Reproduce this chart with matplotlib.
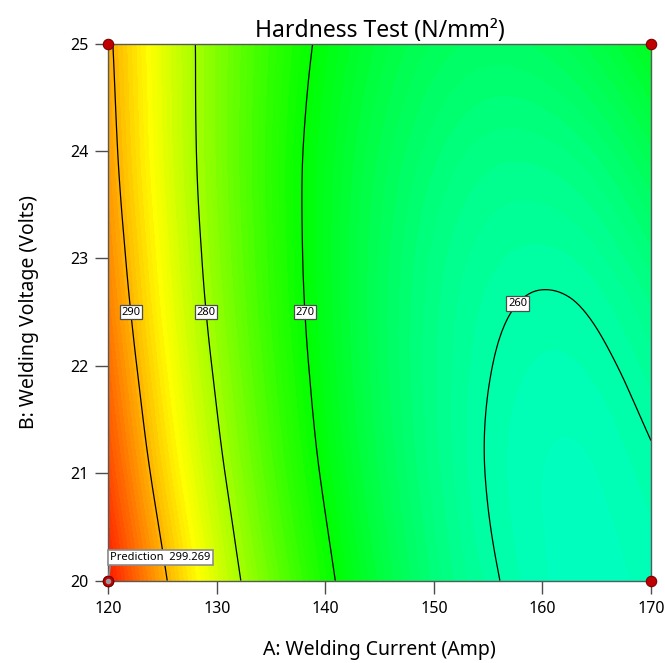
import numpy as np
import matplotlib
matplotlib.use("Agg")
import matplotlib.pyplot as plt
import matplotlib.tri as mtri
from matplotlib.colors import LinearSegmentedColormap

plt.rcParams['font.family'] = ['Noto Sans', 'DejaVu Sans']

# factor grid
current = [120, 125, 130, 135, 140, 145, 150, 155, 160, 165, 170]   # A: Welding Current (Amp)
voltage = [20, 21, 22, 23, 24, 25]                                   # B: Welding Voltage (Volts)

# hardness (N/mm2), one row per voltage
hardness_20v = [299.3, 290.7, 283.0, 276.5, 270.9, 266.4, 262.8, 260.4, 258.9, 258.5, 259.1]
hardness_21v = [296.5, 288.2, 281.0, 274.7, 269.5, 265.3, 262.1, 259.9, 258.8, 258.8, 259.7]
hardness_22v = [294.3, 286.3, 279.4, 273.5, 268.6, 264.7, 261.9, 260.1, 259.3, 259.6, 260.9]
hardness_23v = [292.5, 284.9, 278.3, 272.8, 268.2, 264.7, 262.2, 260.8, 260.4, 261.0, 262.7]
hardness_24v = [291.3, 284.0, 277.8, 272.6, 268.4, 265.3, 263.2, 262.1, 262.1, 263.1, 265.2]
hardness_25v = [290.6, 283.7, 277.8, 273.0, 269.2, 266.4, 264.7, 264.0, 264.4, 265.8, 268.2]

contour_levels = [260, 270, 280, 290]
label_spots = [(122.0, 22.5), (129.05, 22.5), (138.1, 22.5), (157.5, 22.6)]

design_current = [120, 120, 170, 170]
design_voltage = [20, 25, 25, 20]

prediction = 299.269

hardness = np.array([hardness_20v, hardness_21v, hardness_22v,
                     hardness_23v, hardness_24v, hardness_25v])
A, B = np.meshgrid(current, voltage)

# smooth the grid with a cubic triangulation refinement
tri = mtri.Triangulation(A.ravel(), B.ravel())
interp = mtri.CubicTriInterpolator(tri, hardness.ravel(), kind='min_E')
refiner = mtri.UniformTriRefiner(tri)
tri_fine, h_fine = refiner.refine_field(hardness.ravel(), triinterpolator=interp, subdiv=4)

de_cmap = LinearSegmentedColormap.from_list(
    'de', [(0, 0, 1), (0, 1, 1), (0, 1, 0), (1, 1, 0), (1, 0, 0)])

fig = plt.figure(figsize=(6.65, 6.63), dpi=100)
ax = fig.add_axes([0.1629, 0.1243, 0.8160, 0.8099])

ax.tricontourf(tri_fine, h_fine, levels=np.arange(239, 301.6, 0.6),
               cmap=de_cmap, vmin=239, vmax=301)
cs = ax.tricontour(tri_fine, h_fine, levels=contour_levels, colors='k', linewidths=0.9)
labels = ax.clabel(cs, fmt='%d', fontsize=8, inline=False, manual=label_spots)
for t in labels:
    t.set_rotation(0)
    t.set_bbox(dict(facecolor='white', edgecolor='0.3', linewidth=0.9, pad=1.2))

ax.plot(design_current, design_voltage, 'o', color='#c00000', mec='#7a0000',
        ms=7.5, mew=0.8, clip_on=False, zorder=5)

ax.annotate(f'Prediction  {prediction:.3f}', xy=(120, 20), xytext=(1.5, 12.5),
            textcoords='offset points', ha='left', va='bottom', fontsize=8,
            bbox=dict(facecolor='white', edgecolor='0.55', linewidth=1.2, pad=1.5),
            arrowprops=dict(arrowstyle='-', color='0.55', lw=1.2, relpos=(0, 0),
                            shrinkA=0, shrinkB=0), zorder=6)
ax.plot([120], [20], 'o', color='#c00000', mec='#7a0000', ms=7.5, mew=0.8,
        clip_on=False, zorder=7)
ax.plot([120], [20], 'o', color='0.6', ms=3, clip_on=False, zorder=8)

ax.set_xlim(120, 170)
ax.set_ylim(20, 25)
ax.set_xticks([120, 130, 140, 150, 160, 170])
ax.set_yticks([20, 21, 22, 23, 24, 25])
ax.tick_params(direction='out', length=9.5, width=1, color='0.3',
               labelsize=11.5, pad=5)
for s in ax.spines.values():
    s.set_color('0.35')
    s.set_linewidth(1)

ax.set_title('Hardness Test (N/mm²)', fontsize=16.5, pad=5)
ax.set_xlabel('A: Welding Current (Amp)', fontsize=14, labelpad=17)
ax.set_ylabel('B: Welding Voltage (Volts)', fontsize=14, labelpad=22)

fig.savefig('out.png', dpi=100)
